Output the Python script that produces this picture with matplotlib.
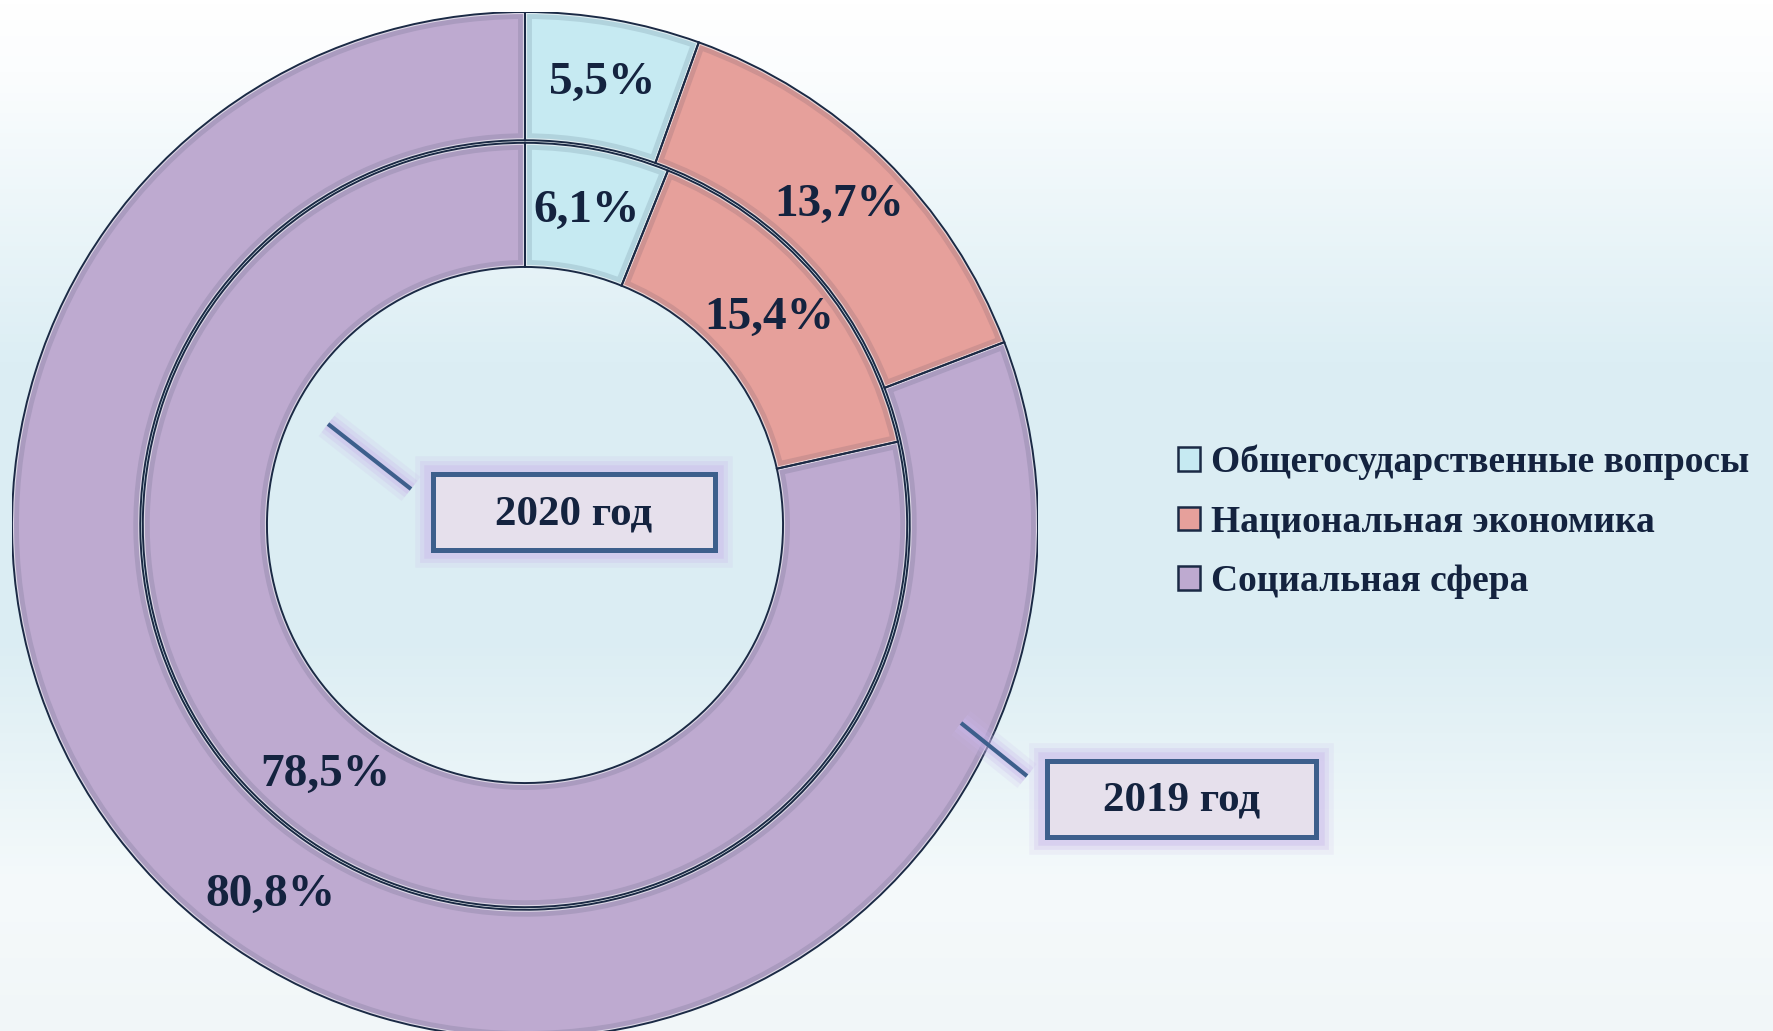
import numpy as np
import matplotlib
matplotlib.use("Agg")
import matplotlib.pyplot as plt
from matplotlib import patheffects as pe
from matplotlib.patches import Patch, Rectangle, Wedge
from matplotlib.colors import LinearSegmentedColormap, to_rgb

# data
categories = ["Общегосударственные вопросы", "Национальная экономика", "Социальная сфера"]
share_2019 = [5.5, 13.7, 80.8]   # outer ring
share_2020 = [6.1, 15.4, 78.5]   # inner ring
colors = ["#C6EAF2", "#E6A09B", "#BEAAD0"]
year_labels = ["2019 год", "2020 год"]

NAVY = "#1B2A45"
TXT = "#14233F"
BOX_EDGE = "#3D5F8C"
plt.rcParams["font.family"] = ["Liberation Serif", "DejaVu Serif"]

W, H = 1774, 1031
fig = plt.figure(figsize=(W / 100, H / 100), dpi=100)

# background gradient (white -> light blue -> white)
bg = fig.add_axes([0, 0, 1, 1])
bg.axis("off")
cmap = LinearSegmentedColormap.from_list(
    "bg", [(0, "#FFFFFF"), (0.07, "#FBFDFE"), (0.35, "#DCEEF4"),
           (0.62, "#DBEDF3"), (0.86, "#F5FAFB"), (1, "#F1F6F8")])
bg.imshow(np.linspace(0, 1, 256)[:, None], aspect="auto", cmap=cmap,
          extent=[0, 1, 0, 1])


def shade(c, k=0.12):
    r = np.array(to_rgb(c))
    return tuple(r * (1 - k) + np.array(to_rgb(NAVY)) * k)


def pct(p):
    return f"{p:.1f}%".replace(".", ",")


def soft_glow(base=0):
    return [pe.Stroke(linewidth=base + w, foreground="#C9B6EA", alpha=a)
            for w, a in ((22, 0.15), (15, 0.25), (9, 0.35))] + [pe.Normal()]


# donut axes: centre (525, 525) px from top, outer radius 513 px
cx, cy, R = 525, 525, 513
ax = fig.add_axes([(cx - R) / W, (H - cy - R) / H, 2 * R / W, 2 * R / H])
tp = dict(fontsize=34, fontweight="bold", color=TXT)

rings = [(share_2019, 1.0, 0.25, 0.875), (share_2020, 0.745, 0.242, 0.838)]
for vals, rad, wd, pd_ in rings:
    wedges, texts, autotexts = ax.pie(
        vals, radius=rad, colors=colors, startangle=90, counterclock=False,
        wedgeprops=dict(width=wd, linewidth=0), autopct=pct,
        pctdistance=pd_, textprops=tp)
    for w, c in zip(wedges, colors):
        band = Wedge(w.center, w.r, w.theta1, w.theta2, width=w.width,
                     facecolor="none", edgecolor=shade(c), lw=10, zorder=2)
        ax.add_patch(band)
        band.set_clip_path(w)
        hl = Wedge(w.center, w.r, w.theta1, w.theta2, width=w.width,
                   facecolor="none", edgecolor="white", lw=3, alpha=0.6,
                   zorder=2.2)
        ax.add_patch(hl)
        hl.set_clip_path(w)
        ax.add_patch(Wedge(w.center, w.r, w.theta1, w.theta2, width=w.width,
                           facecolor="none", edgecolor=NAVY, lw=1.4,
                           zorder=2.5))
    for t in autotexts:
        t.set_zorder(4)
ax.set_xlim(-1, 1)
ax.set_ylim(-1, 1)
ax.set_aspect("equal")
ax.axis("off")

# callouts in pixel coordinates
ov = fig.add_axes([0, 0, 1, 1])
ov.set_xlim(0, W)
ov.set_ylim(H, 0)
ov.axis("off")

callouts = [
    ((1047, 761, 269, 76), ((961, 1027), (723, 776))),   # 2019
    ((433, 474, 282, 76), ((328, 411), (424, 489))),     # 2020
]
for lab, ((x, y, w, h), (lx, ly)) in zip(year_labels, callouts):
    ov.plot(lx, ly, color=BOX_EDGE, lw=3, solid_capstyle="butt",
            path_effects=soft_glow(0))
    ov.add_patch(Rectangle((x, y), w, h, facecolor="#E6E0EC",
                           edgecolor=BOX_EDGE, lw=3.6,
                           path_effects=soft_glow(3.6)))
    ov.text(x + w / 2, y + h / 2 + 2, lab, ha="center", va="center",
            fontsize=31, fontweight="bold", color=TXT)

handles = [Patch(facecolor=c, edgecolor=NAVY, lw=1.8) for c in colors]
fig.legend(handles, categories, loc="center left",
           bbox_to_anchor=(1178 / W, (H - 522) / H), frameon=False,
           prop=dict(family=["Liberation Serif"], weight="bold", size=27),
           labelcolor=TXT, handlelength=0.58, handleheight=0.58,
           handletextpad=0.3, labelspacing=0.65, borderpad=0,
           borderaxespad=0)

fig.savefig("out.png", dpi=100)
